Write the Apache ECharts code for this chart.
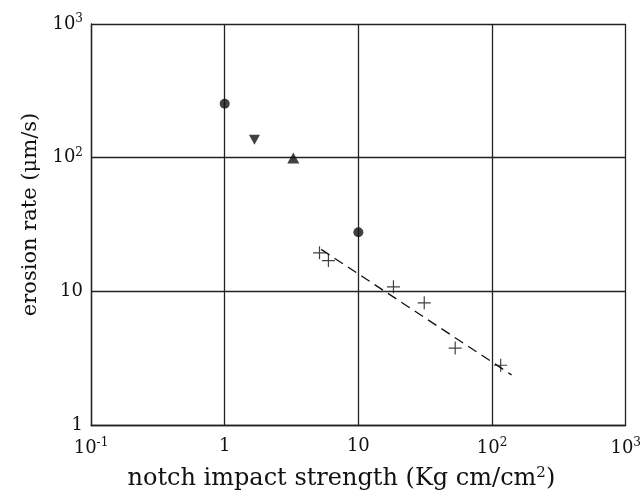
<!DOCTYPE html>
<html>
<head>
<meta charset="utf-8">
<script src="https://cdn.jsdelivr.net/npm/echarts@6/dist/echarts.min.js"></script>
<style>
  html, body { margin: 0; padding: 0; background: #fff; }
  #chart { width: 644px; height: 501px; }
</style>
</head>
<body>
<div id="chart"></div>
<script>
// points (x = notch impact strength, y = erosion rate)
var circlePts = [[1, 253], [10, 27.7]];
var downTriPts = [[1.67, 136]];
var upTriPts = [[3.26, 99.5]];
var crossPts = [[5.12, 19.4], [5.97, 17.0], [18.3, 10.8], [31.1, 8.2], [53, 3.76], [116, 2.8]];
var fitLine = [[5.27, 20.6], [140, 2.37]];

var xTickLabels = { 0.1: '10{s|-1}', 1: '1', 10: '10', 100: '10{s|2}', 1000: '10{s|3}' };
var yTickLabels = { 1: '1', 10: '10', 100: '10{s|2}', 1000: '10{s|3}' };

var serif = '"DejaVu Serif", "Liberation Serif", serif';
var ink = '#111';

var myChart = echarts.init(document.getElementById('chart'));

function tickRich() {
    return {
        s: { fontSize: 12, fontFamily: serif, color: ink, padding: [0, 0, 10, 0] }
    };
}

myChart.setOption({
    animation: false,
    backgroundColor: '#fff',
    grid: { left: 91, right: 18, top: 24, bottom: 76 },
    xAxis: {
        type: 'log',
        logBase: 10,
        min: 0.1,
        max: 1000,
        name: 'notch impact strength (Kg cm/cm{s|2})',
        nameLocation: 'middle',
        nameGap: 41,
        nameTextStyle: {
            fontFamily: serif, fontSize: 24, color: ink,
            padding: [0, 34, 0, 0],
            rich: { s: { fontFamily: serif, fontSize: 15, color: ink, padding: [0, 0, 11, 0] } }
        },
        axisLine: { lineStyle: { color: '#222', width: 1.3 } },
        axisTick: { show: false },
        splitLine: { show: true, lineStyle: { color: '#222', width: 1.3 } },
        axisLabel: {
            margin: 12,
            fontFamily: serif, fontSize: 18, color: ink,
            formatter: function (v) { return xTickLabels[v] || ''; },
            rich: tickRich()
        }
    },
    yAxis: {
        type: 'log',
        logBase: 10,
        min: 1,
        max: 1000,
        name: 'erosion rate (\u03bcm/s)',
        nameLocation: 'middle',
        nameGap: 50,
        nameRotate: 90,
        nameTextStyle: {
            fontFamily: serif, fontSize: 21, color: ink,
            padding: [0, 0, 0, 20]
        },
        axisLine: { lineStyle: { color: '#222', width: 1.3 } },
        axisTick: { show: false },
        splitLine: { show: true, lineStyle: { color: '#222', width: 1.3 } },
        axisLabel: {
            margin: 8,
            fontFamily: serif, fontSize: 18, color: ink,
            formatter: function (v) { return yTickLabels[v] || ''; },
            rich: tickRich()
        }
    },
    series: [
        {
            type: 'line',
            data: fitLine,
            symbol: 'none',
            lineStyle: { color: ink, width: 1.3, type: [10, 6] },
            z: 2
        },
        {
            type: 'scatter',
            data: circlePts,
            symbol: 'circle',
            symbolSize: 10,
            itemStyle: { color: ink }
        },
        {
            type: 'scatter',
            data: downTriPts,
            symbol: 'triangle',
            symbolRotate: 180,
            symbolSize: [11, 10],
            itemStyle: { color: ink }
        },
        {
            type: 'scatter',
            data: upTriPts,
            symbol: 'triangle',
            symbolSize: [12, 11],
            itemStyle: { color: ink }
        },
        {
            type: 'scatter',
            data: crossPts,
            symbol: 'path://M0,6L12,6M6,0L6,12',
            symbolSize: 13,
            itemStyle: { color: 'none', borderColor: ink, borderWidth: 1.2 }
        }
    ]
});
</script>
</body>
</html>
